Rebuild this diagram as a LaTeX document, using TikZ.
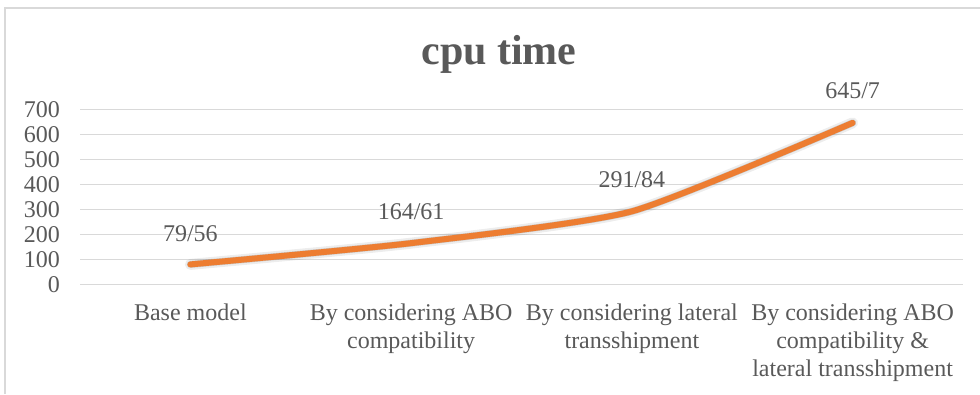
\documentclass[tikz,border=0pt]{standalone}
\usepackage{fontspec}
\setmainfont{Liberation Serif}
\definecolor{txtgray}{RGB}{89,89,89}
\definecolor{gridgray}{RGB}{217,217,217}
\definecolor{bordergray}{RGB}{217,217,217}
\definecolor{lineorange}{RGB}{237,125,49}
\begin{document}
\begin{tikzpicture}[x=1pt,y=1pt,
  gridline/.style={draw=gridgray,line width=1.5pt},
  ticklabel/.style={anchor=base east,inner sep=0pt,text=txtgray,font=\fontsize{24}{28}\selectfont},
  catlabel/.style={anchor=base,inner sep=0pt,align=center,text=txtgray,font=\fontsize{24}{28}\selectfont},
  datalabel/.style={anchor=base,inner sep=0pt,text=txtgray,font=\fontsize{24}{28}\selectfont},
  titlestyle/.style={anchor=base,inner sep=0pt,text=txtgray,font=\fontsize{42}{48}\selectfont\bfseries},
  serieslinestyle/.style={draw=lineorange,line width=6pt,line cap=round,line join=round},
  shadowstyle/.style={draw=black,line cap=round,line join=round}
]
\useasboundingbox (0,0) rectangle (980,394);
% chart border (top and left visible)
\coordinate (bl) at (5,0);
\coordinate (tl) at (5,386);
\coordinate (tr) at (980,386);
\draw[bordergray,line width=1.5pt] (bl) -- (tl) -- (tr);
% title
\node[titlestyle] (title) at (499,329) {cpu time};
% gridlines and tick labels
\foreach \k/\lab in {0/0,1/100,2/200,3/300,4/400,5/500,6/600,7/700}{
  \coordinate (gA\k) at (80,{109.7+25*\k});
  \coordinate (gB\k) at (963,{109.7+25*\k});
  \draw[gridline] (gA\k) -- (gB\k);
  \node[ticklabel] (tick\k) at (60,{109.7+25*\k-8}) {\lab};
}
% data points
\coordinate (p1) at (190.4,{109.7+79.56*0.25});
\coordinate (p2) at (411.1,{109.7+164.61*0.25});
\coordinate (p3) at (631.9,{109.7+291.84*0.25});
\coordinate (p4) at (852.6,{109.7+645.7*0.25});
% shadow
\draw[shadowstyle,line width=11pt,opacity=0.07,shift={(2.5,-4)}] plot[smooth,tension=0.35] coordinates {(p1) (p2) (p3) (p4)};
\draw[shadowstyle,line width=7pt,opacity=0.15,shift={(2,-3)}] plot[smooth,tension=0.35] coordinates {(p1) (p2) (p3) (p4)};
% series line
\draw[serieslinestyle] plot[smooth,tension=0.35] coordinates {(p1) (p2) (p3) (p4)};
% data labels
\node[datalabel] (d1) at ([yshift=23pt]p1) {79/56};
\node[datalabel] (d2) at ([yshift=24pt]p2) {164/61};
\node[datalabel] (d3) at ([yshift=24pt]p3) {291/84};
\node[datalabel] (d4) at ([yshift=24pt]p4) {645/7};
% category labels (anchored at the baseline of their last line)
\node[catlabel] (c1) at (190.4,74) {Base model};
\node[catlabel] (c2) at (411.1,46) {By considering ABO\\compatibility};
\node[catlabel] (c3) at (631.9,46) {By considering lateral\\transshipment};
\node[catlabel] (c4) at (852.6,18) {By considering ABO\\compatibility \&\\lateral transshipment};
\end{tikzpicture}
\end{document}
